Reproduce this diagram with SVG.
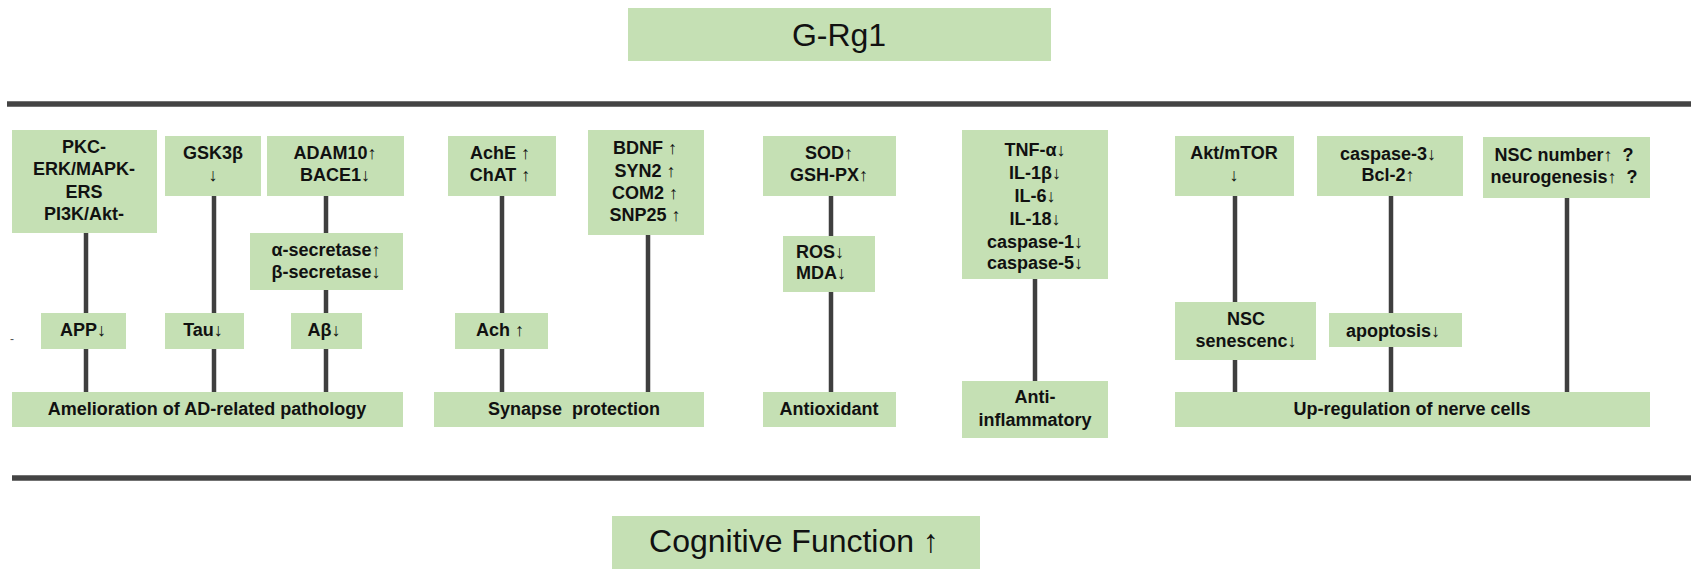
<svg xmlns="http://www.w3.org/2000/svg" width="1702" height="579" viewBox="0 0 1702 579">
<style>
.b{fill:#c5e0b4;}
.t{font-family:"Liberation Sans",Arial,sans-serif;font-weight:bold;font-size:18px;fill:#111;text-anchor:middle;}
.tl{text-anchor:start;}
.big{font-family:"Liberation Sans",Arial,sans-serif;font-size:32px;fill:#111;text-anchor:middle;}
.c line{stroke:#3f3f3f;stroke-width:4.5;}
.rule{stroke:#444;stroke-width:5.5;}
</style>
<rect width="1702" height="579" fill="#fff"/>
<g id="divider-lines">
<line class="rule" x1="7" y1="104" x2="1691" y2="104"/>
<line class="rule" x1="12" y1="478" x2="1691" y2="478"/>
</g>
<g class="c" id="connectors">
<line x1="86" y1="233" x2="86" y2="313"/><line x1="86" y1="349" x2="86" y2="392"/>
<line x1="214" y1="196" x2="214" y2="313"/><line x1="214" y1="349" x2="214" y2="392"/>
<line x1="326" y1="196" x2="326" y2="233"/><line x1="326" y1="290" x2="326" y2="313"/><line x1="326" y1="349" x2="326" y2="392"/>
<line x1="502" y1="196" x2="502" y2="313"/><line x1="502" y1="349" x2="502" y2="392"/>
<line x1="648" y1="235" x2="648" y2="392"/>
<line x1="831" y1="196" x2="831" y2="236"/><line x1="831" y1="292" x2="831" y2="392"/>
<line x1="1035" y1="279" x2="1035" y2="381"/>
<line x1="1235" y1="196" x2="1235" y2="302"/><line x1="1235" y1="360" x2="1235" y2="392"/>
<line x1="1391" y1="196" x2="1391" y2="313"/><line x1="1391" y1="347" x2="1391" y2="392"/>
<line x1="1567" y1="198" x2="1567" y2="392"/>
</g>
<g id="grg1"><rect class="b" x="628" y="8" width="423" height="53"/><text class="big" x="839" y="46">G-Rg1</text></g>
<g id="cognitive"><rect class="b" x="612" y="516" width="368" height="53"/><text class="big" x="794" y="552">Cognitive Function ↑</text></g>

<g id="pkc"><rect class="b" x="12" y="130" width="145" height="103"/>
<text class="t" x="84" y="153">PKC-</text><text class="t" x="84" y="175">ERK/MAPK-</text><text class="t" x="84" y="198">ERS</text><text class="t" x="84" y="220">PI3K/Akt-</text></g>
<g id="gsk3b"><rect class="b" x="165" y="136" width="96" height="60"/>
<text class="t" x="213" y="159">GSK3β</text><text class="t" x="213" y="181">↓</text></g>
<g id="adam10"><rect class="b" x="267" y="136" width="137" height="60"/>
<text class="t" x="335" y="159">ADAM10↑</text><text class="t" x="335" y="181">BACE1↓</text></g>
<g id="secretase"><rect class="b" x="250" y="233" width="153" height="57"/>
<text class="t" x="326" y="256">α-secretase↑</text><text class="t" x="326" y="278">β-secretase↓</text></g>
<g id="app"><rect class="b" x="41" y="313" width="85" height="36"/><text class="t" x="83" y="336">APP↓</text></g>
<g id="tau"><rect class="b" x="165" y="313" width="79" height="36"/><text class="t" x="203" y="336">Tau↓</text></g>
<g id="abeta"><rect class="b" x="291" y="313" width="71" height="36"/><text class="t" x="324" y="336">Aβ↓</text></g>
<g id="amelioration"><rect class="b" x="12" y="392" width="391" height="35"/><text class="t" x="207" y="415">Amelioration of AD-related pathology</text></g>
<text x="10" y="343" font-family="Liberation Sans,Arial,sans-serif" font-size="12" fill="#555">-</text>

<g id="ache"><rect class="b" x="448" y="136" width="108" height="60"/>
<text class="t" x="500" y="159">AchE ↑</text><text class="t" x="500" y="181">ChAT ↑</text></g>
<g id="bdnf"><rect class="b" x="588" y="130" width="116" height="105"/>
<text class="t" x="645" y="154">BDNF ↑</text><text class="t" x="645" y="177">SYN2 ↑</text><text class="t" x="645" y="199">COM2 ↑</text><text class="t" x="645" y="221">SNP25 ↑</text></g>
<g id="ach"><rect class="b" x="455" y="313" width="93" height="36"/><text class="t" x="500" y="336">Ach ↑</text></g>
<g id="synapse"><rect class="b" x="434" y="392" width="270" height="35"/><text class="t" x="574" y="415" xml:space="preserve">Synapse  protection</text></g>

<g id="sod"><rect class="b" x="763" y="136" width="133" height="60"/>
<text class="t" x="829" y="159">SOD↑</text><text class="t" x="829" y="181">GSH-PX↑</text></g>
<g id="ros"><rect class="b" x="783" y="236" width="92" height="56"/>
<text class="t tl" x="796" y="258">ROS↓</text><text class="t tl" x="796" y="279">MDA↓</text></g>
<g id="antioxidant"><rect class="b" x="763" y="392" width="133" height="35"/><text class="t" x="829" y="415">Antioxidant</text></g>

<g id="tnf"><rect class="b" x="962" y="130" width="146" height="149"/>
<text class="t" x="1035" y="156">TNF-α↓</text><text class="t" x="1035" y="179">IL-1β↓</text><text class="t" x="1035" y="202">IL-6↓</text><text class="t" x="1035" y="225">IL-18↓</text><text class="t" x="1035" y="248">caspase-1↓</text><text class="t" x="1035" y="269">caspase-5↓</text></g>
<g id="antiinflammatory"><rect class="b" x="962" y="381" width="146" height="57"/>
<text class="t" x="1035" y="403">Anti-</text><text class="t" x="1035" y="426">inflammatory</text></g>

<g id="aktmtor"><rect class="b" x="1175" y="136" width="119" height="60"/>
<text class="t" x="1234" y="159">Akt/mTOR</text><text class="t" x="1234" y="181">↓</text></g>
<g id="caspase3"><rect class="b" x="1317" y="136" width="146" height="60"/>
<text class="t" x="1388" y="160">caspase-3↓</text><text class="t" x="1388" y="181">Bcl-2↑</text></g>
<g id="nscnumber"><rect class="b" x="1483" y="137" width="167" height="61"/>
<text class="t" x="1564" y="161" xml:space="preserve">NSC number↑  ?</text><text class="t" x="1564" y="183" xml:space="preserve">neurogenesis↑  ?</text></g>
<g id="nscsenescence"><rect class="b" x="1175" y="302" width="141" height="58"/>
<text class="t" x="1246" y="325">NSC</text><text class="t" x="1246" y="347">senescenc↓</text></g>
<g id="apoptosis"><rect class="b" x="1329" y="313" width="133" height="34"/><text class="t" x="1393" y="337">apoptosis↓</text></g>
<g id="upregulation"><rect class="b" x="1175" y="392" width="475" height="35"/><text class="t" x="1412" y="415">Up-regulation of nerve cells</text></g>
</svg>
